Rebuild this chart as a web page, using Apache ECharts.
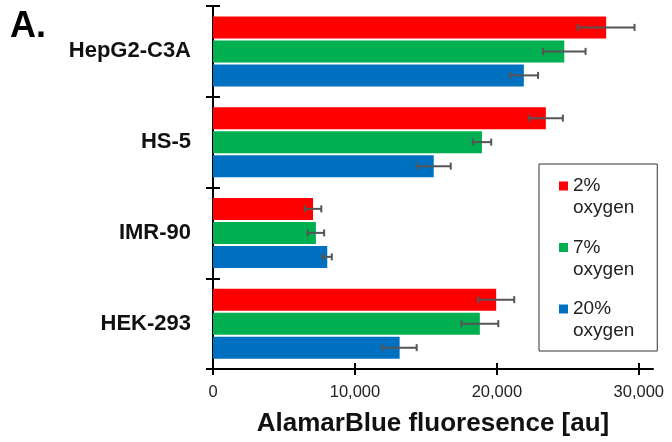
<!DOCTYPE html>
<html>
<head>
<meta charset="utf-8">
<title>AlamarBlue fluoresence</title>
<script src="https://cdn.jsdelivr.net/npm/echarts@6/dist/echarts.min.js"></script>
<style>
  html, body { margin: 0; padding: 0; background: #fff; }
  #chart { width: 672px; height: 442px; }
</style>
</head>
<body>
<div id="chart"></div>
<script>
// Cell lines (top to bottom)
const categories = ['HepG2-C3A', 'HS-5', 'IMR-90', 'HEK-293'];

// Mean fluorescence per oxygen level
const oxygen2 = [27700, 23450, 7050, 19950];
const oxygen7 = [24750, 18950, 7250, 18800];
const oxygen20 = [21900, 15550, 8050, 13150];

// Error (±) per oxygen level
const err2 = [2000, 1200, 580, 1270];
const err7 = [1500, 650, 580, 1300];
const err20 = [1000, 1200, 320, 1200];

const seriesNames = ['2% oxygen', '7% oxygen', '20% oxygen'];
const xTicks = [0, 10000, 20000, 30000];

const colors = ['#FF0000', '#00B050', '#0070C0'];
const FONT = '"Liberation Sans", Arial, Helvetica, sans-serif';
const BAR_W = 22;
const BAR_GAP = 2;

const means = [oxygen2, oxygen7, oxygen20];
const errs = [err2, err7, err20];

const chart = echarts.init(document.getElementById('chart'), null, { renderer: 'canvas' });

// Horizontal error bar with end caps, shifted to the centre of its bar in the group
function errorBar(seriesIdx) {
  const offset = (seriesIdx - 1) * (BAR_W + BAR_GAP);
  return function (params, api) {
    const v = api.value(0), cat = api.value(1), e = api.value(2);
    const lo = api.coord([v - e, cat]);
    const hi = api.coord([v + e, cat]);
    const y = lo[1] + offset;
    const cap = 3.5;
    const style = { stroke: '#555', lineWidth: 2 };
    return {
      type: 'group',
      children: [
        { type: 'line', shape: { x1: lo[0], y1: y, x2: hi[0], y2: y }, style },
        { type: 'line', shape: { x1: lo[0], y1: y - cap, x2: lo[0], y2: y + cap }, style },
        { type: 'line', shape: { x1: hi[0], y1: y - cap, x2: hi[0], y2: y + cap }, style }
      ]
    };
  };
}

const barSeries = seriesNames.map((name, i) => ({
  name,
  type: 'bar',
  xAxisIndex: 0,
  yAxisIndex: 0,
  data: means[i],
  barWidth: BAR_W,
  barGap: (BAR_GAP / BAR_W * 100) + '%',
  itemStyle: { color: colors[i] },
  emphasis: { disabled: true },
  z: 2
}));

const errSeries = seriesNames.map((name, i) => ({
  name: name + ' error',
  type: 'custom',
  xAxisIndex: 0,
  yAxisIndex: 0,
  renderItem: errorBar(i),
  encode: { x: 0, y: 1 },
  data: means[i].map((v, k) => [v, k, errs[i][k]]),
  z: 5,
  silent: true
}));

const axisLineStyle = { color: '#000', width: 2 };

// Legend swatch: a square at the top of a tall, otherwise empty box,
// so it lines up with the first line of the two-line label
const legendIcon = 'path://M0,0h9v9h-9zM0,31h9';

const option = {
  animation: false,
  backgroundColor: '#fff',
  textStyle: { fontFamily: FONT },
  grid: { left: 213, right: 19, top: 6, bottom: 71, containLabel: false },
  legend: {
    data: seriesNames,
    orient: 'vertical',
    left: 539,
    top: 164,
    padding: [11, 23, 9, 20],
    itemGap: 17.5,
    itemWidth: 9,
    itemHeight: 31,
    icon: legendIcon,
    borderColor: '#333',
    borderWidth: 1,
    selectedMode: false,
    formatter: n => n.replace(' ', '\n'),
    textStyle: {
      fontFamily: FONT,
      fontSize: 19,
      lineHeight: 22,
      color: '#222'
    }
  },
  xAxis: [
    {
      type: 'value',
      min: 0,
      max: 31000,
      position: 'bottom',
      splitLine: { show: false },
      axisLine: { show: true, lineStyle: axisLineStyle },
      axisTick: { show: true, length: 6, customValues: xTicks, lineStyle: { color: '#000', width: 2 } },
      axisLabel: {
        customValues: xTicks,
        margin: 15,
        fontSize: 16.5,
        color: '#222',
        fontFamily: FONT,
        formatter: v => v.toLocaleString('en-US')
      },
      name: 'AlamarBlue fluoresence [au]',
      nameLocation: 'middle',
      nameGap: 42,
      nameTextStyle: { fontSize: 26, fontWeight: 'bold', color: '#111', fontFamily: FONT }
    },
    {
      // inward half of the crossing tick marks
      type: 'value',
      min: 0,
      max: 31000,
      position: 'bottom',
      splitLine: { show: false },
      axisLine: { show: false },
      axisTick: { show: true, inside: true, length: 6, customValues: xTicks, lineStyle: { color: '#000', width: 2 } },
      axisLabel: { show: false }
    }
  ],
  yAxis: [
    {
      type: 'category',
      data: categories,
      inverse: true,
      position: 'left',
      axisLine: { show: true, lineStyle: axisLineStyle },
      axisTick: { show: true, length: 7, alignWithLabel: false, lineStyle: { color: '#000', width: 2 } },
      axisLabel: {
        margin: 22,
        fontSize: 22,
        fontWeight: 'bold',
        color: '#111',
        fontFamily: FONT
      }
    },
    {
      type: 'category',
      data: categories,
      inverse: true,
      position: 'left',
      axisLine: { show: false },
      axisTick: { show: true, inside: true, length: 7, alignWithLabel: false, lineStyle: { color: '#000', width: 2 } },
      axisLabel: { show: false }
    }
  ],
  graphic: [
    {
      type: 'text',
      left: 10,
      top: 9,
      style: { text: 'A.', font: 'bold 36px ' + FONT, fill: '#000' }
    }
  ],
  series: [...barSeries, ...errSeries]
};

chart.setOption(option);
</script>
</body>
</html>
